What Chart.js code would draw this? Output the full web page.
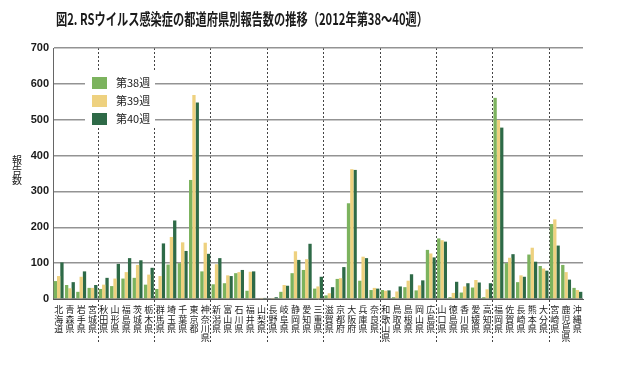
<!DOCTYPE html>
<html>
<head>
<meta charset="utf-8">
<script src="https://cdn.jsdelivr.net/npm/chart.js@4/dist/chart.umd.min.js"></script>
<style>
    html, body { margin: 0; padding: 0; background: #fff; }
    #wrap { width: 640px; height: 365px; position: relative; }
</style>
</head>
<body>
<div id="wrap"><canvas id="myChart"></canvas></div>
<script>
'use strict';

const chartTitle = '図2. RSウイルス感染症の都道府県別報告数の推移（2012年第38～40週）';
const yTitle = ['報', '告', '数'];

const prefectures = ['北海道', '青森県', '岩手県', '宮城県', '秋田県', '山形県', '福島県', '茨城県', '栃木県', '群馬県',
    '埼玉県', '千葉県', '東京都', '神奈川県', '新潟県', '富山県', '石川県', '福井県', '山梨県', '長野県',
    '岐阜県', '静岡県', '愛知県', '三重県', '滋賀県', '京都府', '大阪府', '兵庫県', '奈良県', '和歌山県',
    '鳥取県', '島根県', '岡山県', '広島県', '山口県', '徳島県', '香川県', '愛媛県', '高知県', '福岡県',
    '佐賀県', '長崎県', '熊本県', '大分県', '宮崎県', '鹿児島県', '沖縄県'];

const seriesNames = ['第38週', '第39週', '第40週'];

const week38 = [50, 39, 20, 31, 28, 36, 57, 59, 40, 28,
    96, 100, 332, 77, 41, 44, 72, 23, 2, 2,
    20, 72, 81, 29, 10, 56, 267, 51, 25, 25,
    5, 33, 24, 137, 169, 5, 18, 32, 5, 561,
    100, 47, 124, 92, 209, 95, 31];
const week39 = [64, 30, 62, 31, 40, 57, 75, 95, 68, 64,
    173, 158, 569, 157, 97, 66, 75, 76, 3, 3,
    39, 133, 111, 35, 16, 58, 362, 118, 31, 23,
    21, 51, 38, 127, 164, 17, 35, 53, 27, 499,
    115, 66, 143, 85, 222, 75, 25];
const week40 = [102, 47, 77, 39, 59, 98, 114, 108, 87, 155,
    219, 134, 548, 126, 114, 64, 81, 77, 3, 5,
    37, 109, 154, 62, 33, 89, 360, 114, 29, 24,
    35, 69, 52, 116, 160, 48, 44, 46, 44, 478,
    125, 62, 104, 79, 149, 54, 20];

const colors = ['#7cb35e', '#eed17f', '#2e6a47'];
const jpFont = '"Noto Sans CJK JP", "Noto Sans", sans-serif';

// title, vertical y title and the in-plot legend
const decorations = {
    id: 'decorations',
    afterDraw(chart) {
        const ctx = chart.ctx;
        const area = chart.chartArea;
        ctx.save();
        ctx.fillStyle = '#1a1a1a';
        ctx.font = 'bold 16px ' + jpFont;
        ctx.textBaseline = 'middle';
        ctx.textAlign = 'left';
        ctx.fillText(chartTitle, 56, 19, 372);

        ctx.font = '10px ' + jpFont;
        ctx.textAlign = 'center';
        yTitle.forEach((ch, i) => ctx.fillText(ch, 17, 160 + i * 10));

        const lx = area.left + 39;
        const ly = area.top + 27;
        ctx.fillStyle = '#fff';
        ctx.fillRect(lx - 7, ly - 3, 70, 56);
        ctx.font = '11px ' + jpFont;
        ctx.textAlign = 'left';
        chart.data.datasets.forEach((ds, i) => {
            const y = ly + i * 18;
            ctx.fillStyle = ds.backgroundColor;
            ctx.fillRect(lx, y + 2, 15, 12);
            ctx.fillStyle = '#1a1a1a';
            ctx.fillText(ds.label, lx + 24, y + 8);
        });
        ctx.restore();
    }
};

new Chart(document.getElementById('myChart').getContext('2d'), {
    type: 'bar',
    data: {
        labels: prefectures.map(p => p.split('')),
        datasets: [
            {label: seriesNames[0], data: week38, backgroundColor: colors[0]},
            {label: seriesNames[1], data: week39, backgroundColor: colors[1]},
            {label: seriesNames[2], data: week40, backgroundColor: colors[2]}
        ]
    },
    options: {
        responsive: true,
        maintainAspectRatio: false,
        animation: false,
        layout: {
            padding: {top: 48, right: 57, left: 0, bottom: 0}
        },
        datasets: {
            bar: {
                barPercentage: 1.0,
                categoryPercentage: 0.88
            }
        },
        plugins: {
            legend: {display: false},
            title: {display: false},
            tooltip: {enabled: false}
        },
        scales: {
            x: {
                afterFit: (scale) => { scale.height = 66; },
                grid: {
                    offset: true,
                    drawTicks: true,
                    tickLength: 43,
                    lineWidth: 1,
                    color: (ctx) => ctx.index % 5 === 4 ? '#444' : 'rgba(0,0,0,0)',
                    tickBorderDash: [2, 2]
                },
                border: {
                    display: true,
                    color: '#555',
                    width: 1,
                    dash: [2, 2]
                },
                ticks: {
                    autoSkip: false,
                    maxRotation: 0,
                    minRotation: 0,
                    padding: -37,
                    color: '#1a1a1a',
                    font: {
                        family: jpFont,
                        size: 9,
                        lineHeight: 1.05
                    }
                }
            },
            y: {
                min: 0,
                max: 700,
                afterFit: (scale) => { scale.width = 53; },
                grid: {
                    drawTicks: false,
                    color: '#939393',
                    lineWidth: 1.5
                },
                border: {
                    display: true,
                    color: '#666',
                    width: 1
                },
                ticks: {
                    stepSize: 100,
                    padding: 4,
                    color: '#1a1a1a',
                    font: {
                        family: '"Liberation Sans", Arial, sans-serif',
                        size: 11,
                        weight: 'bold'
                    }
                }
            }
        }
    },
    plugins: [decorations]
});
</script>
</body>
</html>
